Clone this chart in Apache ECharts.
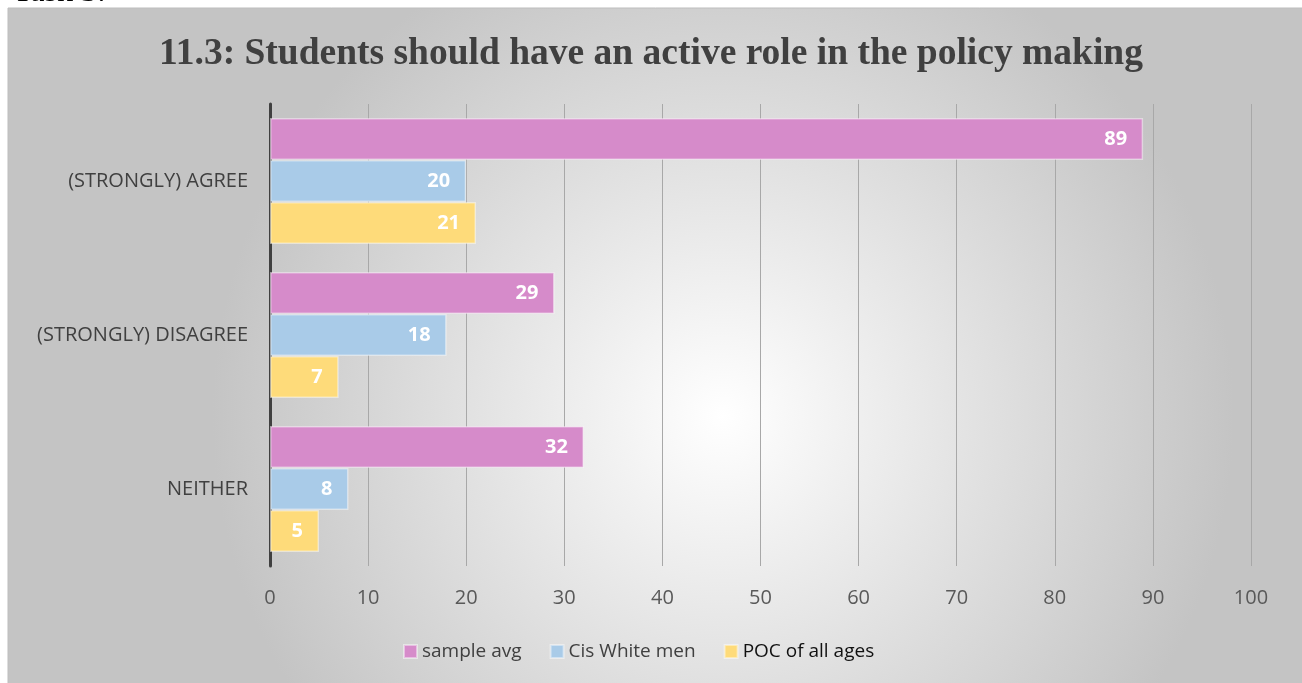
<!DOCTYPE html>
<html>
<head>
<meta charset="utf-8">
<style>
  html, body { margin: 0; padding: 0; background: #fff; }
  #chart { width: 1302px; height: 683px; }
</style>
<script src="https://cdn.jsdelivr.net/npm/echarts@6/dist/echarts.min.js"></script>
</head>
<body>
<div id="chart"></div>
<script>
const categories = ["(STRONGLY) AGREE", "(STRONGLY) DISAGREE", "NEITHER"];
const sampleAvg = [89, 29, 32];
const cisWhiteMen = [20, 18, 8];
const pocAllAges = [21, 7, 5];
const xTicks = [0, 100, 10]; // min, max, interval

const chart = echarts.init(document.getElementById("chart"));

const labelStyle = {
  show: true,
  position: "insideRight",
  distance: 16,
  color: "#fff",
  fontFamily: "Open Sans",
  fontWeight: "bold",
  fontSize: 20,
};

function barSeries(name, data, color) {
  return {
    name: name,
    type: "bar",
    data: data,
    barWidth: 42,
    barGap: "0%",
    itemStyle: { color: color, borderColor: "rgba(255,255,255,0.45)", borderWidth: 1.5 },
    label: labelStyle,
  };
}

const option = {
  animation: false,
  graphic: [
    {
      type: "rect",
      z: -10,
      shape: { x: 8, y: 8, width: 1300, height: 680 },
      style: {
        fill: {
          type: "radial", x: 0.55, y: 0.6, r: 0.75,
          colorStops: [
            { offset: 0, color: "#ffffff" },
            { offset: 1, color: "#c4c4c4" },
          ],
        },
        stroke: "#bdbdbd",
        lineWidth: 1,
      },
    },
    {
      type: "text",
      style: {
        x: 13, y: 9,
        text: "Task 3:",
        font: "32px 'Liberation Serif'",
        fill: "#000",
        verticalAlign: "bottom",
      },
    },
  ],
  title: {
    text: "11.3: Students should have an active role in the policy making",
    left: "center",
    top: 30,
    textStyle: {
      fontFamily: "Liberation Serif",
      fontWeight: "bold",
      fontSize: 37.5,
      color: "#404040",
    },
  },
  legend: {
    data: [
      "sample avg",
      "Cis White men",
      { name: "POC of all ages", textStyle: { color: "#111" } },
    ],
    left: 398,
    top: 637,
    icon: "rect",
    itemWidth: 13,
    itemHeight: 13,
    itemGap: 28,
    textStyle: { fontFamily: "Open Sans", fontSize: 19, color: "#404040" },
  },
  grid: { left: 270, right: 51, top: 104, bottom: 117 },
  xAxis: {
    type: "value",
    min: xTicks[0],
    max: xTicks[1],
    interval: xTicks[2],
    axisLine: { show: false },
    axisTick: { show: false },
    splitLine: { lineStyle: { color: "#a8a8a8", width: 1 } },
    axisLabel: { margin: 22, fontFamily: "Open Sans", fontSize: 20, color: "#595959" },
  },
  yAxis: {
    type: "category",
    data: categories,
    inverse: true,
    axisLine: { show: true, lineStyle: { color: "#404040", width: 3 } },
    axisTick: { show: false },
    axisLabel: { margin: 22, fontFamily: "Open Sans", fontSize: 20, color: "#404040" },
  },
  series: [
    barSeries("sample avg", sampleAvg, "#d68bca"),
    barSeries("Cis White men", cisWhiteMen, "#a9cbe8"),
    barSeries("POC of all ages", pocAllAges, "#fedb7a"),
  ],
};

chart.setOption(option);
window.addEventListener("resize", () => chart.resize());
</script>
</body>
</html>
